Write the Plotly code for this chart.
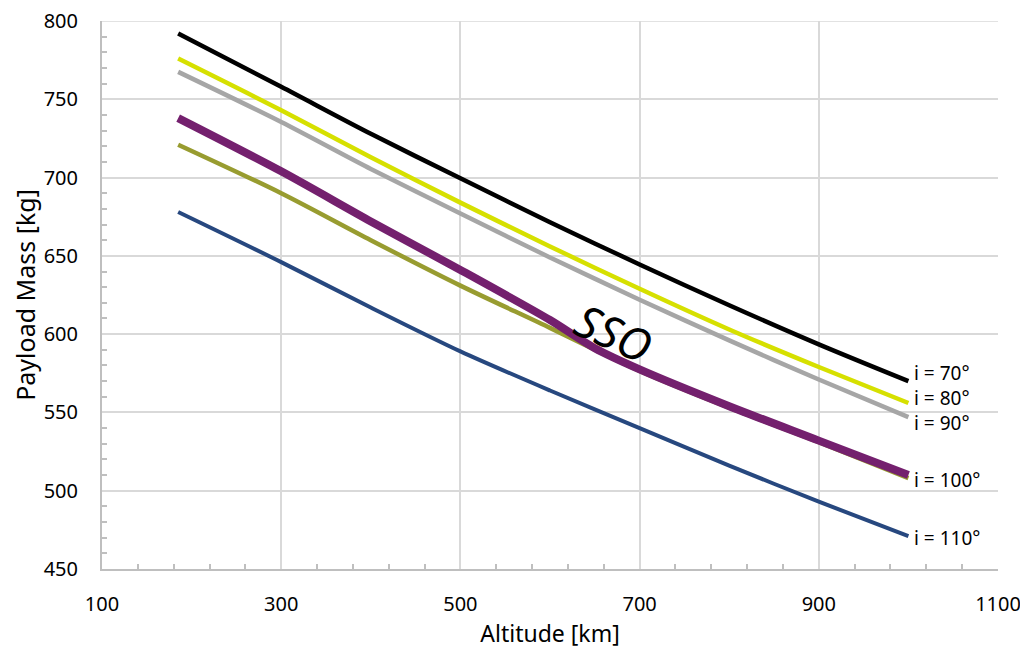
import plotly.graph_objects as go

altitude = [185, 300, 400, 500, 600, 700, 800, 900, 1000]
i70 = [792, 758, 728, 699.5, 671.5, 644.5, 618.5, 593.5, 570]
i80 = [776, 743, 713, 684, 656, 629, 603, 579, 556]
i90 = [767.5, 735.5, 705.5, 677, 649, 622, 596, 571, 547]
i110 = [678, 646, 617, 589, 564, 540, 516, 493, 471]

alt_olive = [185, 300, 400, 500, 600, 650, 700, 800, 900, 1000]
i100 = [721, 690, 660, 631, 604, 590, 576.5, 553, 531, 508]
alt_sso = [185, 300, 400, 500, 600, 650, 700, 800, 900, 1000]
sso = [738, 704, 672, 641, 609, 591, 577.5, 554, 532, 510]

labels = ["i = 70°", "i = 80°", "i = 90°", "i = 100°", "i = 110°"]
label_y = [575.5, 559.5, 543.5, 507, 470]

FONT = "Noto Sans"
GRID = "#d9d9d9"

fig = go.Figure()
series = [
    (altitude, i110, "#27487f", 4),
    (alt_olive, i100, "#989c30", 4.5),
    (altitude, i90, "#a6a6a6", 4.5),
    (altitude, i80, "#d6e000", 4.5),
    (altitude, i70, "#000000", 4.5),
    (alt_sso, sso, "#74206e", 8),
]
for xs, ys, col, w in series:
    fig.add_trace(go.Scatter(x=xs, y=ys, mode="lines",
                             line=dict(color=col, width=w, shape="spline", smoothing=0.8),
                             showlegend=False, hoverinfo="skip"))

for t, y in zip(labels, label_y):
    fig.add_annotation(x=1005, y=y, text=t, showarrow=False, xanchor="left",
                       yanchor="middle", borderpad=0,
                       font=dict(family=FONT, size=19, color="#000"))

fig.add_annotation(x=671, y=601, text="<i>SSO</i>", showarrow=False, textangle=24,
                   font=dict(family=FONT, size=45, color="#000"))

# top border gridline (at 800)
fig.add_shape(type="line", xref="paper", yref="y", x0=0, x1=1, y0=800, y1=800,
              line=dict(color=GRID, width=1.5), layer="below")

axis_common = dict(showline=True, linecolor="#bfbfbf", linewidth=2,
                   showgrid=True, gridcolor=GRID, gridwidth=1.5, automargin=False,
                   ticklabeloverflow="allow",
                   zeroline=False, ticks="", tickfont=dict(family=FONT, size=20, color="#000"))

fig.update_xaxes(range=[100, 1100], dtick=200, tick0=100, ticklabelstandoff=16,
                 title=dict(text="Altitude [km]", font=dict(family=FONT, size=23, color="#000"), standoff=10),
                 minor=dict(dtick=40, tick0=100, ticks="inside", ticklen=5, tickcolor="#bfbfbf",
                            tickwidth=1.5, showgrid=False),
                 **axis_common)
fig.update_yaxes(range=[450, 800], dtick=50, ticklabelstandoff=18,
                 title=dict(text="Payload Mass [kg]", font=dict(family=FONT, size=25, color="#000"), standoff=10),
                 minor=dict(dtick=10, ticks="inside", ticklen=5, tickcolor="#bfbfbf",
                            tickwidth=1.5, showgrid=False),
                 **axis_common)

fig.update_layout(width=1028, height=655, margin=dict(l=94, r=38, t=13, b=94),
                  paper_bgcolor="white", plot_bgcolor="white",
                  font=dict(family=FONT))

fig.write_html("out.html")
